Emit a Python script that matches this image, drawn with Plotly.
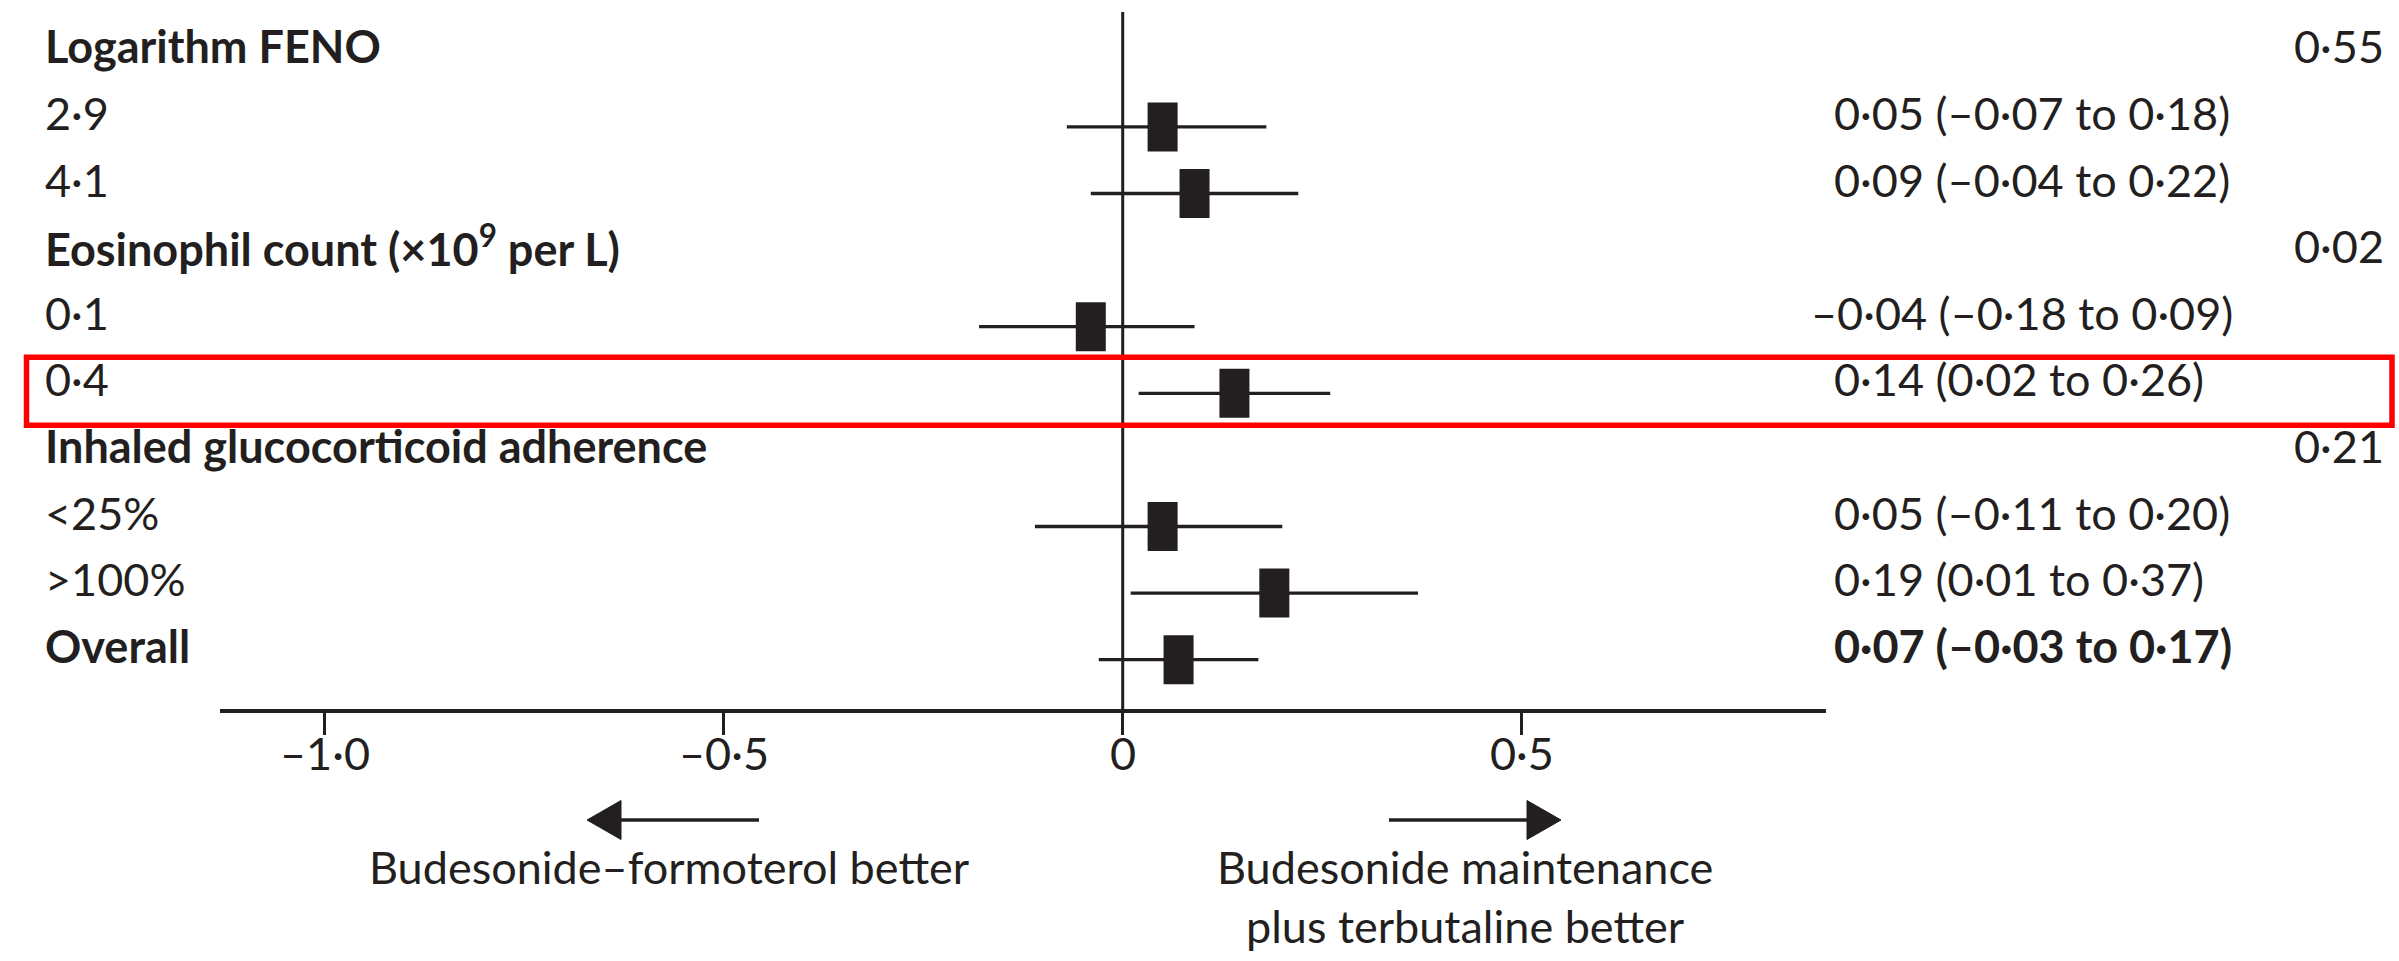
import plotly.graph_objects as go

# ---- data -----------------------------------------------------------------
subgroups = [
    "Logarithm FENO",
    "2·9",
    "4·1",
    "Eosinophil count (×10<sup>9</sup> per L)",
    "0·1",
    "0·4",
    "Inhaled glucocorticoid adherence",
    "<25%",
    ">100%",
    "Overall",
]
bold_rows = [True, False, False, True, False, False, True, False, False, True]
estimate = [None, 0.05, 0.09, None, -0.04, 0.14, None, 0.05, 0.19, 0.07]
ci_low = [None, -0.07, -0.04, None, -0.18, 0.02, None, -0.11, 0.01, -0.03]
ci_high = [None, 0.18, 0.22, None, 0.09, 0.26, None, 0.20, 0.37, 0.17]
p_interaction = ["0·55", None, None, "0·02", None, None, "0·21", None, None, None]

tick_values = [-1.0, -0.5, 0, 0.5]
tick_labels = ["–1·0", "–0·5", "0", "0·5"]
highlighted_row = "0·4"
left_caption = "Budesonide–formoterol better"
right_caption = "Budesonide maintenance<br>plus terbutaline better"

# ---- layout geometry (pixels) --------------------------------------------
W, H = 2399, 961
PLOT_L, PLOT_R = 220, 1826          # horizontal extent of the x axis line
AXIS_Y = 709                         # y pixel of the x axis line
ROW0, ROW_STEP = 60.3, 66.6          # first row centre and row spacing
X_MIN, X_MAX = -1.1312, 0.8813

INK = "#231f20"
FONT = "Lato"
FS = 45


def paper_x(px):
    return (px - PLOT_L) / (PLOT_R - PLOT_L)


def paper_y(py):
    return (AXIS_Y - py) / AXIS_Y


def row_px(i):
    return ROW0 + ROW_STEP * i


def fmt(v):
    s = f"{abs(v):.2f}".replace(".", "·")
    return ("–" if v < 0 else "") + s


def esc(t):
    return t.replace("<", "&lt;").replace(">", "&gt;") if "<sup>" not in t else t


rows = list(range(len(subgroups)))
idx = [i for i in rows if estimate[i] is not None]

fig = go.Figure()

# confidence intervals and point estimates (tall filled boxes)
fig.add_trace(
    go.Scatter(
        x=[estimate[i] for i in idx],
        y=idx,
        mode="markers",
        marker=dict(
            symbol="line-ns",
            size=35,
            color=INK,
            line=dict(width=30, color=INK),
        ),
        error_x=dict(
            type="data",
            symmetric=False,
            array=[ci_high[i] - estimate[i] for i in idx],
            arrayminus=[estimate[i] - ci_low[i] for i in idx],
            width=0,
            thickness=3.3,
            color=INK,
        ),
        hoverinfo="skip",
        showlegend=False,
    )
)

annotations = []
TEXT_LIFT = 14  # labels sit slightly above the interval lines

for i in rows:
    label = esc(subgroups[i])
    if bold_rows[i]:
        label = f"<b>{label}</b>"
    annotations.append(dict(
        x=paper_x(43), xref="paper", xanchor="left",
        y=i, yref="y", yanchor="middle", yshift=TEXT_LIFT,
        text=label, showarrow=False,
    ))
    if estimate[i] is not None:
        txt = f"{fmt(estimate[i])} ({fmt(ci_low[i])} to {fmt(ci_high[i])})"
        if bold_rows[i]:
            txt = f"<b>{txt}</b>"
        annotations.append(dict(
            x=paper_x(1832), xref="paper", xanchor="left",
            xshift=-23 if estimate[i] < 0 else 0,
            y=i, yref="y", yanchor="middle", yshift=TEXT_LIFT,
            text=txt, showarrow=False,
        ))
    if p_interaction[i]:
        annotations.append(dict(
            x=paper_x(2386), xref="paper", xanchor="right",
            y=i, yref="y", yanchor="middle", yshift=TEXT_LIFT,
            text=p_interaction[i], showarrow=False,
        ))

# x tick labels, set close under the tick marks
for v, t in zip(tick_values, tick_labels):
    annotations.append(dict(
        x=v, xref="x", xanchor="center",
        y=paper_y(753), yref="paper", yanchor="middle",
        text=t, showarrow=False,
    ))

annotations.append(dict(
    x=paper_x(669), xref="paper", xanchor="center",
    y=paper_y(867), yref="paper", yanchor="middle",
    text=left_caption, showarrow=False,
))
annotations.append(dict(
    x=paper_x(1465), xref="paper", xanchor="center",
    y=paper_y(838), yref="paper", yanchor="top",
    text=right_caption, showarrow=False,
))

shapes = [
    # line of no difference
    dict(type="line", xref="x", yref="paper", x0=0, x1=0,
         y0=0, y1=paper_y(12), line=dict(color=INK, width=3)),
]

# direction arrows: shaft plus a filled triangular head
ARROW_Y, HEAD_LEN, HEAD_HALF = 820, 34, 19.5
for tip, tail in [(587, 759), (1561, 1389)]:
    d = 1 if tail > tip else -1
    back = tip + d * HEAD_LEN
    shapes.append(dict(
        type="line", xref="paper", yref="paper",
        x0=paper_x(back), x1=paper_x(tail), y0=paper_y(ARROW_Y), y1=paper_y(ARROW_Y),
        line=dict(color=INK, width=3.5),
    ))
    shapes.append(dict(
        type="path", xref="paper", yref="paper",
        path=(f"M{paper_x(tip)},{paper_y(ARROW_Y)} "
              f"L{paper_x(back)},{paper_y(ARROW_Y - HEAD_HALF)} "
              f"L{paper_x(back)},{paper_y(ARROW_Y + HEAD_HALF)} Z"),
        fillcolor=INK, line=dict(color=INK, width=1),
    ))

hl = subgroups.index(highlighted_row)
shapes.append(dict(
    type="rect", xref="paper", yref="paper",
    x0=paper_x(26.5), x1=paper_x(2392),
    y0=paper_y(row_px(hl) + 32), y1=paper_y(row_px(hl) - 36),
    line=dict(color="#ff0000", width=5.5), fillcolor="rgba(0,0,0,0)",
))

fig.update_layout(
    width=W, height=H,
    margin=dict(l=PLOT_L, r=W - PLOT_R, t=0, b=H - AXIS_Y, pad=0),
    paper_bgcolor="white", plot_bgcolor="white",
    font=dict(family=FONT, size=FS, color=INK),
    annotations=annotations,
    shapes=shapes,
    xaxis=dict(
        range=[X_MIN, X_MAX], showgrid=False, zeroline=False,
        showline=True, linecolor=INK, linewidth=3.5,
        ticks="outside", ticklen=22, tickwidth=3, tickcolor=INK,
        tickvals=tick_values, showticklabels=False,
        fixedrange=True,
    ),
    yaxis=dict(
        range=[(AXIS_Y - ROW0) / ROW_STEP, -ROW0 / ROW_STEP],
        visible=False, fixedrange=True,
    ),
)

fig.write_html("out.html")
